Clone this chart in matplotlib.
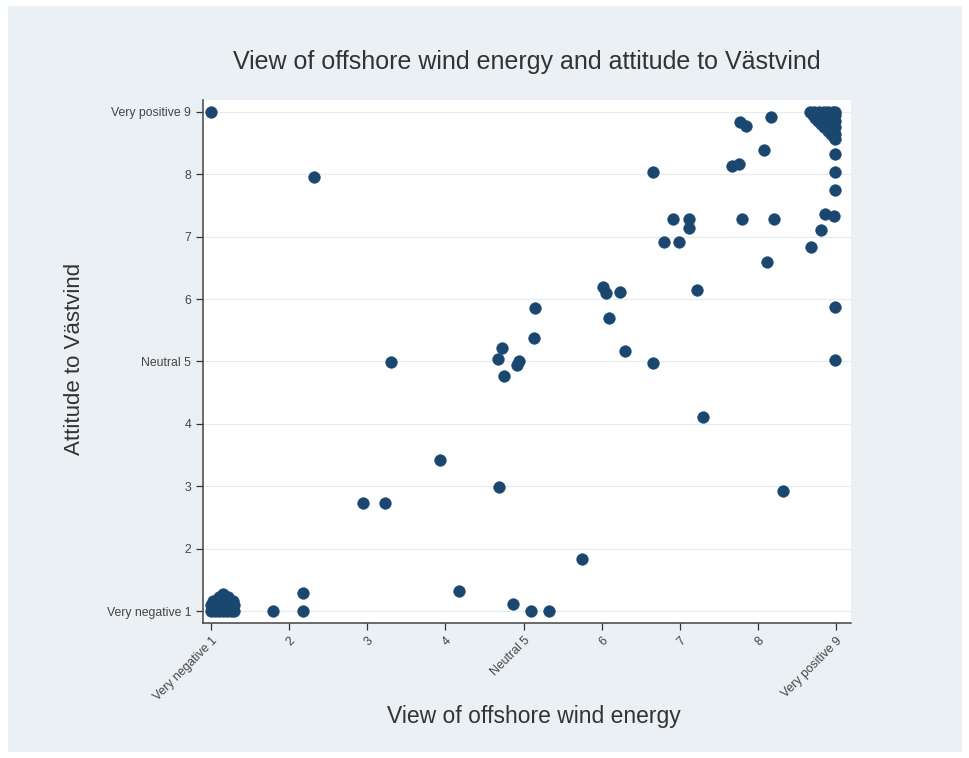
import matplotlib
matplotlib.use("Agg")
import matplotlib.pyplot as plt
from matplotlib.patches import Rectangle

plt.rcParams['font.family'] = ['Liberation Sans', 'DejaVu Sans']

# scattered respondents (view of offshore wind, attitude to Vastvind), jittered
x_scatter = [1.0, 2.32, 3.30, 3.93, 2.95, 3.23, 4.17, 4.69, 4.87, 5.10, 5.33, 5.75,
             1.79, 2.18, 2.18, 6.02, 6.06, 6.23, 7.22, 5.15, 6.09, 5.13, 4.73, 4.67,
             4.91, 4.94, 4.75, 6.30, 6.66, 7.29, 8.32, 7.77, 7.84, 8.17, 8.08, 7.67,
             7.76, 6.66, 8.99, 8.99, 8.99, 8.86, 8.97, 8.81, 8.68, 6.91, 7.12, 7.12,
             7.79, 8.21, 6.80, 6.99, 8.12, 8.99, 8.99]
y_scatter = [9.0, 7.96, 4.99, 3.42, 2.73, 2.73, 1.32, 2.99, 1.12, 1.0, 1.0, 1.84,
             1.0, 1.0, 1.29, 6.19, 6.10, 6.11, 6.15, 5.85, 5.70, 5.38, 5.21, 5.04,
             4.94, 5.01, 4.77, 5.17, 4.98, 4.11, 2.92, 8.83, 8.78, 8.92, 8.39, 8.14,
             8.16, 8.04, 8.33, 8.04, 7.75, 7.37, 7.33, 7.11, 6.83, 7.28, 7.29, 7.14,
             7.28, 7.28, 6.91, 6.92, 6.60, 5.88, 5.03]

# dense cluster of "very negative / very negative"
x_low = [1.0, 1.05, 1.1, 1.15, 1.2, 1.25, 1.3, 1.0, 1.08, 1.16, 1.24, 1.3,
         1.03, 1.12, 1.22, 1.28, 1.1, 1.15, 1.22, 1.02, 1.06, 1.18, 1.27]
y_low = [1.0, 1.0, 1.0, 1.0, 1.0, 1.0, 1.0, 1.1, 1.1, 1.1, 1.1, 1.1,
         1.17, 1.17, 1.17, 1.17, 1.22, 1.27, 1.22, 1.05, 1.14, 1.04, 1.06]

# dense cluster of "very positive / very positive"
x_high = [8.66, 8.72, 8.78, 8.84, 8.90, 8.96, 8.99,
          8.70, 8.78, 8.86, 8.94, 8.99,
          8.73, 8.80, 8.88, 8.96,
          8.77, 8.84, 8.92, 8.99,
          8.81, 8.88, 8.96,
          8.85, 8.92, 8.99,
          8.89, 8.96,
          8.93, 8.99, 8.97, 8.99]
y_high = [9.0, 9.0, 9.0, 9.0, 9.0, 9.0, 9.0,
          8.95, 8.95, 8.95, 8.95, 8.95,
          8.9, 8.9, 8.9, 8.9,
          8.85, 8.85, 8.85, 8.85,
          8.8, 8.8, 8.8,
          8.75, 8.75, 8.75,
          8.7, 8.7,
          8.64, 8.64, 8.59, 8.56]

ticks = [1, 2, 3, 4, 5, 6, 7, 8, 9]
tick_labels = ['Very negative 1', '2', '3', '4', 'Neutral 5', '6', '7', '8', 'Very positive 9']
y_tick_labels = ['Very negative 1', '2', '3', '4', 'Neutral 5', '6', '7', '8', 'Very positive 9']

bg = '#eaf0f3'
navy = '#1a476f'

fig = plt.figure(figsize=(9.69, 7.58), dpi=100)
fig.patch.set_facecolor('white')
fig.patches.append(Rectangle((8 / 969, 6 / 758), 954 / 969, 746 / 758,
                             transform=fig.transFigure, facecolor=bg,
                             edgecolor='none', zorder=-10))

ax = fig.add_axes([203 / 969, 1 - 623 / 758, 648 / 969, 523 / 758])
ax.set_zorder(1)
ax.set_facecolor('white')

for xs, ys in [(x_scatter, y_scatter), (x_low, y_low), (x_high, y_high)]:
    ax.scatter(xs, ys, s=72, color=navy, edgecolors=navy, linewidths=0.3, zorder=3)

ax.set_xlim(0.898, 9.19)
ax.set_ylim(0.81, 9.19)

ax.set_xticks(ticks)
ax.set_xticklabels(tick_labels, rotation=45, ha='right', rotation_mode='anchor',
                   fontsize=8.8, color='#444444')
ax.set_yticks(ticks)
ax.set_yticklabels(y_tick_labels, fontsize=8.8, color='#444444')
ax.tick_params(axis='both', direction='out', length=5, width=0.9, color='#333333', pad=3.5)

ax.grid(axis='y', color='#e6ecee', linewidth=0.9, zorder=0)
ax.set_axisbelow(True)
for side in ['top', 'right']:
    ax.spines[side].set_visible(False)
for side in ['left', 'bottom']:
    ax.spines[side].set_color('#444444')
    ax.spines[side].set_linewidth(1.1)

fig.text(527 / 969, 1 - 62 / 758, 'View of offshore wind energy and attitude to Västvind',
         ha='center', va='center', fontsize=18, color='#333333')
fig.text(534 / 969, 1 - 717 / 758, 'View of offshore wind energy',
         ha='center', va='center', fontsize=16.5, color='#333333')
fig.text(75 / 969, 1 - 359 / 758, 'Attitude to Västvind', rotation=90,
         ha='center', va='center', fontsize=16, color='#333333')

fig.savefig('out.png', dpi=100, facecolor=fig.get_facecolor())
